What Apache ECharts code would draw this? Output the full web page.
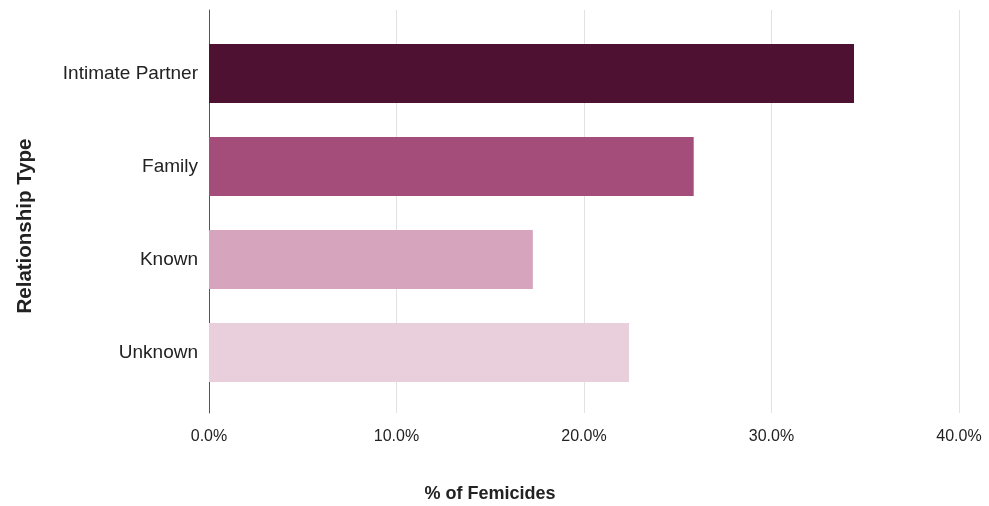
<!DOCTYPE html>
<html>
<head>
<meta charset="utf-8">
<script src="https://cdn.jsdelivr.net/npm/echarts@6/dist/echarts.min.js"></script>
<style>
  html, body { margin: 0; padding: 0; background: #fff; }
  #chart { width: 989px; height: 506px; }
</style>
</head>
<body>
<div id="chart"></div>
<script>
// Share of femicides by victim–offender relationship
const categories = ['Intimate Partner', 'Family', 'Known', 'Unknown'];
const shares = [34.4, 25.85, 17.27, 22.4];
const barColors = ['#4e1131', '#a44c7a', '#d6a4bd', '#e9cfdb'];
const tickValues = [0, 10, 20, 30, 40];

const FONT = '"Liberation Sans", Arial, sans-serif';
const TEXT = '#222222';
const chart = echarts.init(document.getElementById('chart'), null, { renderer: 'canvas' });

chart.setOption({
  backgroundColor: '#ffffff',
  animation: false,
  grid: [
    // frame grid: gridlines and the vertical axis line
    { left: 209, right: 30, top: 10, bottom: 93 },
    // bar grid
    { left: 209, right: 30, top: 27, bottom: 107 }
  ],
  xAxis: [
    {
      gridIndex: 0, type: 'value',
      min: tickValues[0], max: tickValues[tickValues.length - 1], interval: 10,
      axisLine: { show: false }, axisTick: { show: false },
      splitLine: { show: true, lineStyle: { color: '#e2e2e2', width: 1 } },
      axisLabel: {
        margin: 16, color: TEXT, fontFamily: FONT, fontSize: 16,
        formatter: v => v.toFixed(1) + '%'
      }
    },
    {
      gridIndex: 1, type: 'value',
      min: tickValues[0], max: tickValues[tickValues.length - 1], interval: 10,
      show: false
    }
  ],
  yAxis: [
    {
      gridIndex: 0, type: 'value', min: 0, max: 1,
      axisLine: { show: true, onZero: false, lineStyle: { color: '#555555', width: 1 } },
      axisTick: { show: false }, axisLabel: { show: false }, splitLine: { show: false }
    },
    {
      gridIndex: 1, type: 'category', data: categories, inverse: true,
      axisLine: { show: false }, axisTick: { show: false }, splitLine: { show: false },
      axisLabel: { margin: 11, color: TEXT, fontFamily: FONT, fontSize: 19 }
    }
  ],
  graphic: [
    {
      type: 'text',
      x: 490, y: 494,
      style: {
        text: '% of Femicides', fill: TEXT,
        font: 'bold 18px ' + FONT, align: 'center', verticalAlign: 'middle'
      }
    },
    {
      type: 'text',
      x: 25, y: 226, rotation: Math.PI / 2,
      style: {
        text: 'Relationship Type', fill: TEXT,
        font: 'bold 20.5px ' + FONT, align: 'center', verticalAlign: 'middle'
      }
    }
  ],
  series: [{
    type: 'bar',
    xAxisIndex: 1, yAxisIndex: 1,
    barCategoryGap: '36.5%',
    data: shares.map((v, i) => ({ value: v, itemStyle: { color: barColors[i] } }))
  }]
});
</script>
</body>
</html>
